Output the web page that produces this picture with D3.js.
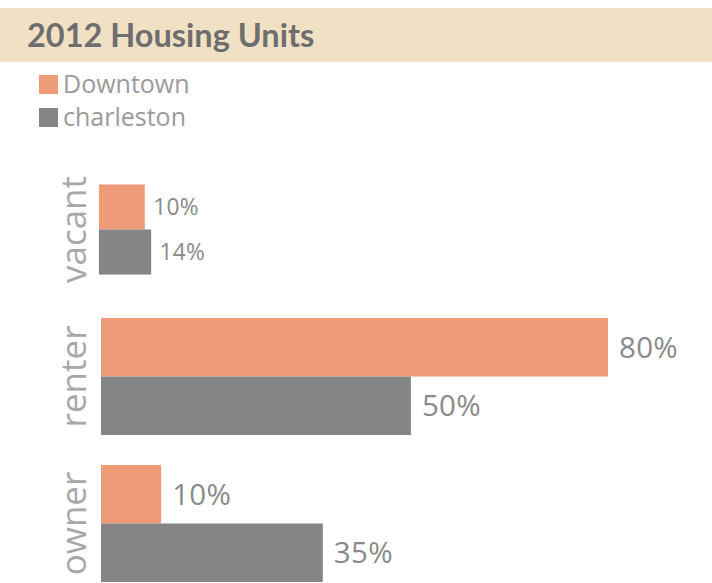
<!DOCTYPE html>
<html>
<head>
<meta charset="utf-8">
<script src="https://cdn.jsdelivr.net/npm/d3@7"></script>
<style>
  html, body { margin: 0; padding: 0; background: #fff; }
  svg { display: block; }
</style>
</head>
<body>
<svg id="chart" width="712" height="583"></svg>
<script>
// ---- data ----
const title = "2012 Housing Units";
const categories = ["vacant", "renter", "owner"];
const seriesNames = ["Downtown", "charleston"];
const downtownValues = [9.4, 80, 9.5];
const charlestonValues = [10.7, 48.9, 35];
const downtownLabels = ["10%", "80%", "10%"];
const charlestonLabels = ["14%", "50%", "35%"];

// ---- layout / style ----
const W = 712, H = 583;
const colors = { "Downtown": "#EE9B78", "charleston": "#858585" };
const groupShrink = { vacant: 0.77 };

const svg = d3.select("#chart");

// title bar
svg.append("rect").attr("x", 0).attr("y", 8).attr("width", W).attr("height", 54)
  .attr("fill", "#F1E1C4");
svg.append("text").attr("x", 27).attr("y", 47)
  .attr("font-family", "Lato, 'Open Sans', sans-serif").attr("font-weight", 700)
  .attr("font-size", 32.5).attr("fill", "#6E6E6E").text(title);

// legend
const legend = svg.append("g").selectAll("g").data(seriesNames).join("g")
  .attr("transform", (d, i) => `translate(39,${75 + i * 33})`);
legend.append("rect").attr("width", 19).attr("height", 19).attr("fill", d => colors[d]);
legend.append("text").attr("x", 24).attr("y", 18)
  .attr("font-family", "'Open Sans', sans-serif").attr("font-size", 25)
  .attr("fill", "#9A9A9A").text(d => d);

// scales
const x0 = 101;
const x = d3.scaleLinear().domain([0, 80]).range([x0, x0 + 507]);
const y = d3.scaleBand().domain(categories).range([156, 597])
  .paddingInner(30 / 147).paddingOuter(15 / 147);
const ySeries = d3.scaleBand().domain(seriesNames).range([0, y.bandwidth()]);

const rows = categories.map((c, i) => ({
  cat: c,
  bars: [
    { s: "Downtown", v: downtownValues[i], label: downtownLabels[i] },
    { s: "charleston", v: charlestonValues[i], label: charlestonLabels[i] }
  ]
}));

const groups = svg.append("g").selectAll("g").data(rows).join("g")
  .attr("transform", d => {
    const k = groupShrink[d.cat] || 1;
    const cy = y(d.cat) + y.bandwidth() / 2;
    const cx = 92;
    if (k === 1) return `translate(0,${y(d.cat)})`;
    return `translate(${cx},${cy}) scale(${k}) translate(${-cx},${-y.bandwidth() / 2})`;
  });

groups.selectAll("rect").data(d => d.bars).join("rect")
  .attr("x", x(0))
  .attr("y", d => ySeries(d.s))
  .attr("width", d => x(d.v) - x(0))
  .attr("height", ySeries.bandwidth())
  .attr("fill", d => colors[d.s]);

groups.selectAll("text.val").data(d => d.bars).join("text")
  .attr("class", "val")
  .attr("x", d => x(d.v) + 11)
  .attr("y", d => ySeries(d.s) + ySeries.bandwidth() / 2)
  .attr("dy", "0.35em")
  .attr("font-family", "'Open Sans', sans-serif").attr("font-size", 29.5)
  .attr("letter-spacing", 0.3)
  .attr("fill", "#8A8A8A").text(d => d.label);

// category axis labels (rotated)
svg.append("g").selectAll("text").data(categories).join("text")
  .attr("transform", d => `translate(86,${y(d) + y.bandwidth() / 2}) rotate(-90)`)
  .attr("text-anchor", "middle")
  .attr("font-family", "'Open Sans', sans-serif").attr("font-size", 35)
  .attr("fill", "#A8A8A8").text(d => d);
</script>
</body>
</html>
